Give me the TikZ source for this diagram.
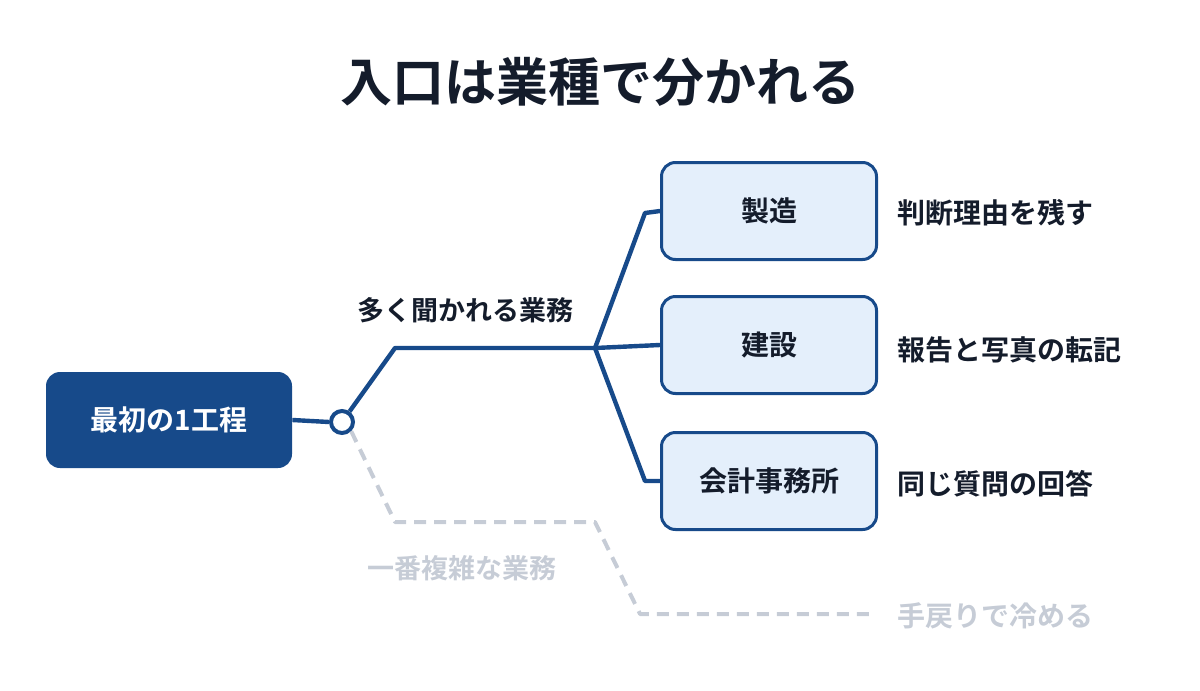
\documentclass[tikz,border=0pt]{standalone}
\usepackage{fontspec}
\newfontfamily\jp{Noto Sans CJK JP}[BoldFont={* Bold}]
\definecolor{navy}{HTML}{174A8A}
\definecolor{lightb}{HTML}{E4EFFB}
\definecolor{ink}{HTML}{141C2B}
\definecolor{grayc}{HTML}{C6CCD6}
\begin{document}
\begin{tikzpicture}[x=0.5pt,y=-0.5pt,
  cat/.style={draw=navy,line width=1.5pt,fill=lightb,rounded corners=7pt,minimum width=107.5pt,minimum height=48.5pt,font=\jp\bfseries\fontsize{14}{16}\selectfont,text=ink},
  lbl/.style={font=\jp\bfseries\fontsize{14}{16}\selectfont,text=ink,anchor=west},
  link/.style={draw=navy,line width=2.2pt,line join=round},
  ghost/.style={draw=grayc,line width=2pt,dashed,dash pattern=on 6pt off 4pt,line join=round}]
\useasboundingbox (0,0) rectangle (1200,691);
\node[font=\jp\bfseries\fontsize{26}{30}\selectfont,text=ink] (title) at (600,82) {入口は業種で分かれる};
\node[fill=navy,rounded corners=7pt,minimum width=123pt,minimum height=48pt,text=white,font=\jp\bfseries\fontsize{14}{16}\selectfont] (start) at (169,420) {最初の1工程};
\node[circle,draw=navy,line width=2pt,fill=white,minimum size=11pt,inner sep=0] (hub) at (342,422) {};
\node[cat] (m) at (769,211) {製造};
\node[cat] (c) at (769,345) {建設};
\node[cat] (a) at (769,481) {会計事務所};
\coordinate (k1) at (395,348);
\coordinate (j) at (595,348);
\coordinate (tm) at (645,213);
\coordinate (ta) at (645,481);
\draw[link] (start.east) -- (hub.west);
\draw[link] (hub) -- (k1) -- (j) -- (c.west);
\draw[link] (j) -- (tm) -- (m.west);
\draw[link] (j) -- (ta) -- (a.west);
\node[font=\jp\bfseries\fontsize{13.5}{16}\selectfont,text=ink] (often) at (465,310) {多く聞かれる業務};
\node[lbl] (l1) at (890,213) {判断理由を残す};
\node[lbl] (l2) at (890,350) {報告と写真の転記};
\node[lbl] (l3) at (890,484) {同じ質問の回答};
\coordinate (g1) at (395,522);
\coordinate (g2) at (595,522);
\coordinate (g3) at (640,614);
\coordinate (g4) at (872,614);
\draw[ghost] (hub.south east) -- (g1) -- (g2) -- (g3) -- (g4);
\node[font=\jp\bfseries\fontsize{13.5}{16}\selectfont,text=grayc] (hard) at (462,568) {一番複雑な業務};
\node[font=\jp\bfseries\fontsize{14}{16}\selectfont,text=grayc,anchor=west] (cool) at (890,616) {手戻りで冷める};
\end{tikzpicture}
\end{document}
